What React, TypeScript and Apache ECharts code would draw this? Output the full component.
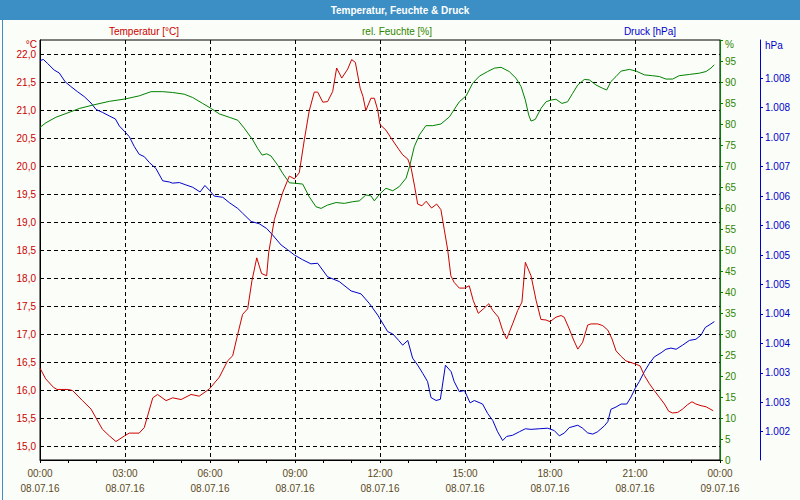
import React, { useEffect, useRef } from "react";
import * as echarts from "echarts";

// ---- data ----
const tempHours = [0, 0.2, 0.47, 0.6, 1.0, 1.15, 1.5, 1.8, 2.2, 2.45, 2.68, 2.98, 3.15, 3.5, 3.68, 3.98, 4.15, 4.45, 4.68, 4.98, 5.33, 5.62, 5.98, 6.33, 6.62, 6.8, 6.98, 7.15, 7.33, 7.48, 7.65, 7.82, 8.0, 8.07, 8.27, 8.56, 8.8, 8.98, 9.15, 9.33, 9.5, 9.68, 9.8, 9.98, 10.15, 10.33, 10.47, 10.65, 10.86, 11.0, 11.13, 11.3, 11.4, 11.5, 11.68, 11.8, 11.92, 12.0, 12.21, 12.39, 12.66, 12.8, 12.98, 13.1, 13.22, 13.33, 13.48, 13.63, 13.82, 14.0, 14.15, 14.27, 14.39, 14.5, 14.62, 14.8, 14.98, 15.15, 15.29, 15.47, 15.65, 15.84, 15.98, 16.18, 16.33, 16.47, 16.68, 16.86, 17.01, 17.13, 17.33, 17.51, 17.68, 17.86, 18.0, 18.21, 18.39, 18.5, 18.68, 18.82, 18.98, 19.15, 19.33, 19.45, 19.68, 19.86, 20.04, 20.19, 20.33, 20.51, 20.68, 20.86, 21.04, 21.18, 21.33, 21.51, 21.68, 21.86, 22.04, 22.19, 22.33, 22.51, 22.68, 22.86, 23.01, 23.15, 23.33, 23.51, 23.65, 23.76];
const tempValues = [16.39, 16.2, 16.05, 16.01, 16.01, 15.99, 15.81, 15.66, 15.3, 15.18, 15.08, 15.18, 15.23, 15.23, 15.33, 15.86, 15.92, 15.81, 15.86, 15.83, 15.92, 15.89, 16.02, 16.23, 16.52, 16.61, 17.0, 17.35, 17.45, 17.95, 18.36, 18.08, 18.04, 18.45, 19.04, 19.52, 19.82, 19.77, 19.88, 20.47, 20.98, 21.32, 21.32, 21.14, 21.15, 21.33, 21.75, 21.57, 21.73, 21.9, 21.85, 21.39, 21.24, 20.99, 21.21, 21.21, 21.0, 20.74, 20.64, 20.5, 20.3, 20.2, 20.125, 19.96, 19.64, 19.32, 19.29, 19.37, 19.25, 19.32, 19.22, 18.86, 18.5, 18.04, 17.92, 17.82, 17.82, 17.86, 17.6, 17.37, 17.45, 17.54, 17.42, 17.3, 17.06, 16.91, 17.18, 17.42, 17.57, 18.28, 18.04, 17.6, 17.26, 17.25, 17.22, 17.3, 17.33, 17.3, 17.09, 16.91, 16.73, 16.85, 17.16, 17.18, 17.18, 17.15, 17.07, 16.91, 16.7, 16.6, 16.52, 16.49, 16.46, 16.43, 16.26, 16.11, 15.99, 15.87, 15.75, 15.62, 15.59, 15.6, 15.66, 15.74, 15.79, 15.75, 15.72, 15.7, 15.66, 15.63];

const humHours = [0, 0.21, 0.56, 0.92, 1.39, 1.86, 2.45, 3.0, 3.5, 3.92, 4.33, 4.68, 5.09, 5.39, 5.74, 6.04, 6.33, 6.68, 6.98, 7.21, 7.51, 7.68, 7.84, 8.0, 8.15, 8.39, 8.56, 8.8, 8.98, 9.27, 9.5, 9.74, 9.92, 10.15, 10.45, 10.74, 11.04, 11.27, 11.5, 11.68, 11.8, 11.98, 12.21, 12.45, 12.68, 12.92, 13.04, 13.21, 13.39, 13.62, 13.86, 14.15, 14.45, 14.8, 15.04, 15.27, 15.51, 15.8, 16.04, 16.27, 16.56, 16.8, 16.98, 17.13, 17.25, 17.33, 17.48, 17.68, 17.86, 18.04, 18.21, 18.42, 18.62, 18.8, 18.98, 19.21, 19.39, 19.62, 19.86, 20.0, 20.15, 20.33, 20.51, 20.8, 21.04, 21.33, 21.62, 21.86, 22.09, 22.33, 22.56, 22.92, 23.27, 23.51, 23.68, 23.8];
const humValues = [79.2, 80.3, 81.6, 82.5, 83.7, 84.5, 85.4, 85.95, 86.7, 87.7, 87.7, 87.5, 87.1, 86.3, 84.9, 83.7, 82.4, 81.6, 80.9, 79.0, 76.2, 74.2, 72.6, 72.9, 72.4, 70.2, 68.3, 66.0, 65.9, 65.7, 62.7, 60.3, 59.9, 60.7, 61.3, 61.1, 61.5, 61.7, 63.1, 62.9, 61.7, 63.25, 64.7, 64.1, 65.1, 67.1, 69.8, 74.6, 77.4, 79.6, 79.6, 80.0, 81.7, 85.3, 86.7, 89.7, 91.4, 92.5, 93.3, 93.5, 92.5, 90.9, 88.9, 85.7, 82.1, 80.7, 81.1, 83.7, 85.3, 85.7, 85.9, 84.9, 85.3, 87.3, 89.3, 90.6, 90.5, 89.3, 88.5, 88.1, 90.1, 91.3, 92.6, 93.0, 92.6, 91.7, 91.5, 91.3, 90.7, 90.7, 91.5, 91.8, 92.1, 92.5, 93.3, 94.1];

const presHours = [0, 0.12, 0.27, 0.5, 0.68, 0.89, 1.09, 1.33, 1.56, 1.8, 1.98, 2.21, 2.45, 2.66, 2.8, 3.0, 3.15, 3.33, 3.5, 3.68, 3.86, 4.09, 4.33, 4.56, 4.68, 4.92, 5.15, 5.39, 5.65, 5.82, 5.98, 6.15, 6.45, 6.68, 6.98, 7.15, 7.45, 7.74, 8.0, 8.21, 8.51, 8.74, 8.98, 9.27, 9.56, 9.8, 10.15, 10.56, 10.98, 11.33, 11.62, 11.92, 12.27, 12.45, 12.66, 12.8, 12.98, 13.15, 13.33, 13.51, 13.68, 13.8, 13.98, 14.13, 14.31, 14.51, 14.62, 14.8, 14.98, 15.18, 15.33, 15.62, 15.8, 15.98, 16.15, 16.33, 16.47, 16.68, 16.92, 17.13, 17.33, 17.62, 17.92, 18.15, 18.33, 18.51, 18.68, 18.98, 19.15, 19.33, 19.51, 19.68, 19.92, 20.04, 20.15, 20.33, 20.51, 20.71, 20.86, 21.01, 21.15, 21.33, 21.51, 21.68, 21.92, 22.09, 22.27, 22.45, 22.68, 22.92, 23.15, 23.33, 23.48, 23.68, 23.8];
const presValues = [1008.3, 1008.32, 1008.25, 1008.14, 1008.09, 1007.94, 1007.86, 1007.77, 1007.69, 1007.58, 1007.47, 1007.42, 1007.36, 1007.31, 1007.19, 1007.09, 1007.01, 1006.84, 1006.71, 1006.67, 1006.57, 1006.47, 1006.26, 1006.24, 1006.22, 1006.23, 1006.19, 1006.15, 1006.07, 1006.18, 1006.1, 1006.0, 1005.98, 1005.89, 1005.79, 1005.71, 1005.57, 1005.53, 1005.45, 1005.34, 1005.17, 1005.09, 1005.0, 1004.92, 1004.85, 1004.86, 1004.63, 1004.55, 1004.39, 1004.34, 1004.18, 1003.98, 1003.7, 1003.66, 1003.55, 1003.47, 1003.55, 1003.25, 1003.13, 1002.99, 1002.85, 1002.58, 1002.53, 1002.55, 1003.13, 1003.02, 1002.85, 1002.68, 1002.7, 1002.49, 1002.53, 1002.47, 1002.31, 1002.19, 1002.0, 1001.85, 1001.92, 1001.94, 1002.0, 1002.05, 1002.04, 1002.05, 1002.06, 1002.02, 1001.93, 1001.98, 1002.07, 1002.11, 1002.06, 1001.98, 1001.96, 1002.0, 1002.1, 1002.17, 1002.38, 1002.42, 1002.47, 1002.47, 1002.59, 1002.74, 1002.85, 1003.02, 1003.16, 1003.27, 1003.34, 1003.4, 1003.42, 1003.4, 1003.47, 1003.55, 1003.57, 1003.64, 1003.77, 1003.83, 1003.87];

const tempTicks = [15, 15.5, 16, 16.5, 17, 17.5, 18, 18.5, 19, 19.5, 20, 20.5, 21, 21.5, 22];
const presTicks = [1002, 1002.5, 1003, 1003.5, 1004, 1004.5, 1005, 1005.5, 1006, 1006.5, 1007, 1007.5, 1008];

const titleText = "Temperatur, Feuchte & Druck";
const legendTexts = ["Temperatur [°C]", "rel. Feuchte [%]", "Druck [hPa]"];

const FONT = "Liberation Sans, Arial, sans-serif";
const RED = "#cc0000";
const GREEN = "#008000";
const GREEN_TXT = "#2f8500";
const BLUE = "#0000cc";
const FRAME = "#3c8fc5";
const XTXT = "#5c4a1e";

const zip = (a: number[], b: number[]) => a.map((v, i) => [v, b[i]]);

export default function App() {
  const ref = useRef<HTMLDivElement>(null);
  useEffect(() => {
    if (!ref.current) return;
    const chart = echarts.init(ref.current, null, { renderer: "svg" });
    const dashed = { color: "#000", width: 1, type: [4, 3] as any };
    chart.setOption({
      animation: false,
      backgroundColor: "#fbfdf8",
      textStyle: { fontFamily: FONT, fontSize: 10 },
      grid: {
        left: 40, top: 40, width: 680, height: 420,
        show: true, borderColor: "#000", borderWidth: 1, backgroundColor: "transparent",
      },
      xAxis: {
        type: "value", min: 0, max: 24, interval: 3,
        axisLine: { show: true, lineStyle: { color: "#000" } },
        axisTick: { show: true, length: 3, lineStyle: { color: "#000" } },
        minorTick: { show: true, splitNumber: 3, length: 3, lineStyle: { color: "#000" } },
        splitLine: { show: true, lineStyle: dashed },
        axisLabel: {
          color: XTXT, fontFamily: FONT, fontSize: 10, margin: 6, lineHeight: 15,
          formatter: (h: number) => {
            const hh = Math.round(h) % 24;
            const day = h >= 24 ? "09.07.16" : "08.07.16";
            return String(hh).padStart(2, "0") + ":00\n" + day;
          },
        },
      },
      yAxis: [
        {
          type: "value", position: "left", min: 14.75, max: 22.25, splitNumber: 15,
          axisLine: { show: true, lineStyle: { color: "#000" } },
          axisTick: { show: false, customValues: tempTicks },
          splitLine: { show: true, lineStyle: dashed },
          axisLabel: {
            customValues: tempTicks, color: RED, fontFamily: FONT, fontSize: 10, margin: 4,
            formatter: (v: number) => {
              const ok = Math.abs(v * 2 - Math.round(v * 2)) < 1e-6 && v >= 14.999 && v <= 22.001;
              return ok ? v.toFixed(1).replace(".", ",") : "";
            },
          },
        },
        {
          type: "value", position: "right", min: 0, max: 100, interval: 5,
          axisLine: { show: true, lineStyle: { color: GREEN, width: 1 } },
          axisTick: { show: true, length: 3, lineStyle: { color: GREEN } },
          splitLine: { show: false },
          axisLabel: {
            color: GREEN_TXT, fontFamily: FONT, fontSize: 10, margin: 5,
            formatter: (v: number) => (v >= 100 ? "" : String(v)),
          },
        },
        {
          type: "value", position: "right", offset: 40, min: 1001.52, max: 1008.65, splitNumber: 14,
          axisLine: { show: true, lineStyle: { color: BLUE, width: 1 } },
          axisTick: { show: true, length: 3, customValues: presTicks, lineStyle: { color: BLUE } },
          splitLine: { show: false },
          axisLabel: {
            customValues: presTicks, color: BLUE, fontFamily: FONT, fontSize: 10, margin: 5,
            formatter: (v: number) =>
              v >= 1001.999 && v <= 1008.001 ? (Math.round(v + 1e-9) / 1000).toFixed(3) : "",
          },
        },
      ],
      series: [
        {
          type: "line", yAxisIndex: 2, data: zip(presHours, presValues),
          showSymbol: false, lineStyle: { color: BLUE, width: 1 }, itemStyle: { color: BLUE },
        },
        {
          type: "line", yAxisIndex: 1, data: zip(humHours, humValues),
          showSymbol: false, lineStyle: { color: GREEN, width: 1 }, itemStyle: { color: GREEN },
        },
        {
          type: "line", yAxisIndex: 0, data: zip(tempHours, tempValues),
          showSymbol: false, lineStyle: { color: RED, width: 1 }, itemStyle: { color: RED },
        },
      ],
      graphic: [
        { type: "rect", left: 0, top: 0, shape: { width: 800, height: 20 }, style: { fill: FRAME }, z: 10 },
        { type: "rect", left: 0, top: 0, shape: { x: 0.5, y: 0.5, width: 799, height: 499 }, style: { fill: "none", stroke: FRAME, lineWidth: 1 }, z: 10 },
        { type: "text", x: 400, y: 10, style: { text: titleText, fill: "#fff", font: `bold 10px ${FONT}`, align: "center", verticalAlign: "middle" }, z: 11 },
        { type: "text", x: 144, y: 31, style: { text: legendTexts[0], fill: RED, font: `10px ${FONT}`, align: "center", verticalAlign: "middle" } },
        { type: "text", x: 397, y: 31, style: { text: legendTexts[1], fill: GREEN_TXT, font: `10px ${FONT}`, align: "center", verticalAlign: "middle" } },
        { type: "text", x: 650, y: 31, style: { text: legendTexts[2], fill: BLUE, font: `10px ${FONT}`, align: "center", verticalAlign: "middle" } },
        { type: "text", x: 37, y: 44, style: { text: "°C", fill: RED, font: `10px ${FONT}`, align: "right", verticalAlign: "middle" } },
        { type: "text", x: 725, y: 44, style: { text: "%", fill: GREEN_TXT, font: `10px ${FONT}`, align: "left", verticalAlign: "middle" } },
        { type: "text", x: 765, y: 45, style: { text: "hPa", fill: BLUE, font: `10px ${FONT}`, align: "left", verticalAlign: "middle" } },
      ],
    });
    return () => chart.dispose();
  }, []);
  return <div ref={ref} style={{ position: "fixed", left: 0, top: 0, width: 800, height: 500 }} />;
}
